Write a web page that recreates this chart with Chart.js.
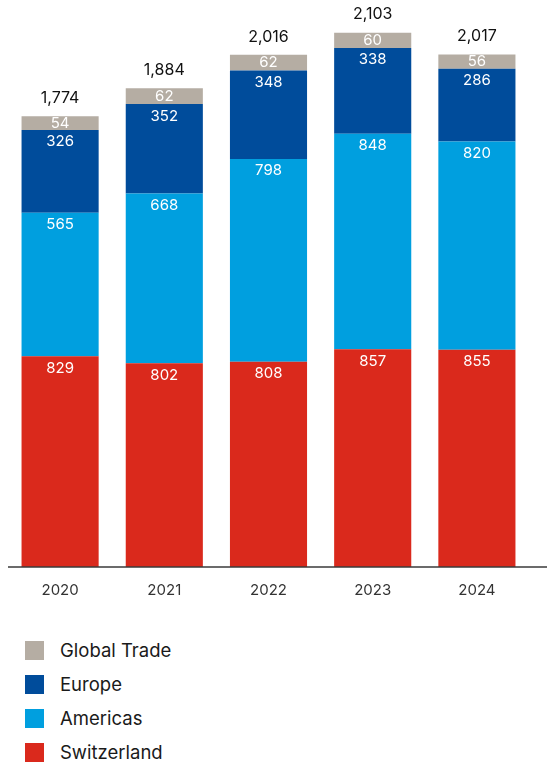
<!DOCTYPE html>
<html>
<head>
<meta charset="utf-8">
<script src="https://cdn.jsdelivr.net/npm/chart.js@4.4.1/dist/chart.umd.min.js"></script>
<style>
  body { margin: 0; background: #fff; font-family: Inter, "Noto Sans", sans-serif; }
  #wrap { position: relative; width: 547px; height: 607px; }
  #legend { list-style: none; margin: 0; padding: 0; position: absolute; left: 25px; top: 633px; }
  #legend li { display: flex; align-items: center; height: 34px; font-size: 18.5px; color: #1a1a1a; }
  #legend span.box { width: 19px; height: 19px; margin-right: 16px; display: inline-block; }
</style>
</head>
<body>
<div id="wrap"><canvas id="chart" width="547" height="607"></canvas></div>
<ul id="legend"></ul>
<script>
Chart.defaults.font.family = 'Inter, "Noto Sans", sans-serif';

const years = ['2020', '2021', '2022', '2023', '2024'];
const switzerland = [829, 802, 808, 857, 855];
const americas = [565, 668, 798, 848, 820];
const europe = [326, 352, 348, 338, 286];
const globalTrade = [54, 62, 62, 60, 56];

const totals = years.map((y, i) => switzerland[i] + americas[i] + europe[i] + globalTrade[i]);

// draws the segment values, the totals and the baseline
const labelsPlugin = {
	id: 'segLabels',
	afterDatasetsDraw(chart) {
		const ctx = chart.ctx;
		ctx.save();
		ctx.textAlign = 'center';
		ctx.textBaseline = 'middle';
		chart.data.datasets.forEach((ds, d) => {
			const meta = chart.getDatasetMeta(d);
			meta.data.forEach((bar, i) => {
				const h = bar.base - bar.y;
				ctx.fillStyle = '#ffffff';
				ctx.font = '15px Inter, "Noto Sans", sans-serif';
				ctx.fillText(ds.data[i], bar.x, bar.y + Math.min(12, h / 2));
			});
		});
		const top = chart.getDatasetMeta(chart.data.datasets.length - 1);
		top.data.forEach((bar, i) => {
			ctx.fillStyle = '#111111';
			ctx.font = '16px Inter, "Noto Sans", sans-serif';
			ctx.fillText(totals[i].toLocaleString('en-US'), bar.x, bar.y - 18);
		});
		const yb = chart.scales.y.getPixelForValue(0);
		ctx.strokeStyle = '#3a3a3a';
		ctx.lineWidth = 1.5;
		ctx.beginPath();
		ctx.moveTo(8, yb);
		ctx.lineTo(547, yb);
		ctx.stroke();
		ctx.restore();
	}
};

var ctxc = document.getElementById('chart').getContext('2d');
var chart = new Chart(ctxc, {
	type: 'bar',
	data: {
		labels: years,
		datasets: [
			{ label: 'Switzerland', data: switzerland, backgroundColor: '#da291c' },
			{ label: 'Americas', data: americas, backgroundColor: '#009fdf' },
			{ label: 'Europe', data: europe, backgroundColor: '#004c9b' },
			{ label: 'Global Trade', data: globalTrade, backgroundColor: '#b5ada3' }
		]
	},
	options: {
		responsive: false,
		animation: false,
		layout: { padding: { left: 8, right: 18, top: 8, bottom: 0 } },
		datasets: { bar: { categoryPercentage: 1, barPercentage: 0.74 } },
		scales: {
			x: {
				stacked: true,
				grid: { display: false, drawTicks: false },
				border: { display: false },
				ticks: { color: '#333333', font: { size: 15 }, padding: 14 },
				afterFit(scale) { scale.height = 40; }
			},
			y: { stacked: true, display: false, min: 0, max: 2200 }
		},
		plugins: {
			legend: { display: false },
			tooltip: { enabled: false }
		}
	},
	plugins: [labelsPlugin]
});

// legend list, top of stack first
var legend = document.getElementById('legend');
chart.data.datasets.slice().reverse().forEach(function (ds) {
	var li = document.createElement('li');
	var box = document.createElement('span');
	box.className = 'box';
	box.style.background = ds.backgroundColor;
	li.appendChild(box);
	li.appendChild(document.createTextNode(ds.label));
	legend.appendChild(li);
});
</script>
</body>
</html>
